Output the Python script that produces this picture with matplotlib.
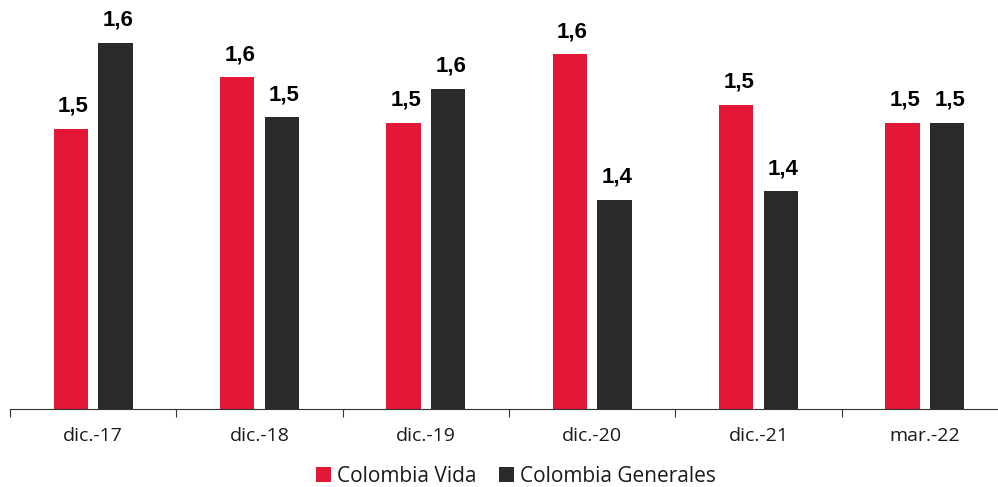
import numpy as np
import matplotlib
matplotlib.use("Agg")
from matplotlib import pyplot as plt

categories = ["dic.-17", "dic.-18", "dic.-19", "dic.-20", "dic.-21", "mar.-22"]
vida = [1.515, 1.573, 1.522, 1.599, 1.542, 1.522]
generales = [1.612, 1.528, 1.560, 1.435, 1.445, 1.522]
series_names = ["Colombia Vida", "Colombia Generales"]

red = "#E31837"
dark = "#2A2A2A"

fig = plt.figure(figsize=(9.98, 4.87), dpi=100)
# axes spans slightly past the right edge, as in the reference
ax = fig.add_axes([10 / 998, 1 - 409 / 487, 998 / 998, 409 / 487])

x = np.arange(len(categories))
w = 0.205
off = 0.134
b1 = ax.bar(x - off, vida, w, color=red, label=series_names[0])
b2 = ax.bar(x + off, generales, w, color=dark, label=series_names[1])

ax.set_ylim(1.2, 1.66)
ax.set_xlim(-0.5, len(categories) - 0.5)

for bars, vals in ((b1, vida), (b2, generales)):
    for r, v in zip(bars, vals):
        ax.annotate(("%.1f" % v).replace(".", ","),
                    (r.get_x() + r.get_width() / 2 + 0.015, v),
                    xytext=(0, 12.3), textcoords="offset points",
                    ha="center", va="baseline", annotation_clip=False,
                    fontsize=16, fontweight="bold", family="Liberation Sans")

for s in ["top", "right", "left"]:
    ax.spines[s].set_visible(False)
ax.spines["bottom"].set_color("#333333")
ax.set_yticks([])
ax.set_xticks(np.arange(-0.5, len(categories), 1))
ax.set_xticklabels([])
ax.set_xticks(x, minor=True)
ax.set_xticklabels(categories, minor=True, fontsize=14, family="Open Sans", color="#1a1a1a")
ax.tick_params(axis="x", which="major", length=6, color="#333333")
ax.tick_params(axis="x", which="minor", length=0, pad=13)

leg = fig.legend(loc="center", bbox_to_anchor=(516 / 998, 1 - 476 / 487), ncol=2,
                 frameon=False, prop={"family": "Open Sans", "size": 15},
                 handlelength=0.7, handleheight=0.7, handletextpad=0.3,
                 columnspacing=1.1, borderaxespad=0, borderpad=0)
for t in leg.get_texts():
    t.set_color("#1a1a1a")

fig.savefig("out.png", dpi=100)
